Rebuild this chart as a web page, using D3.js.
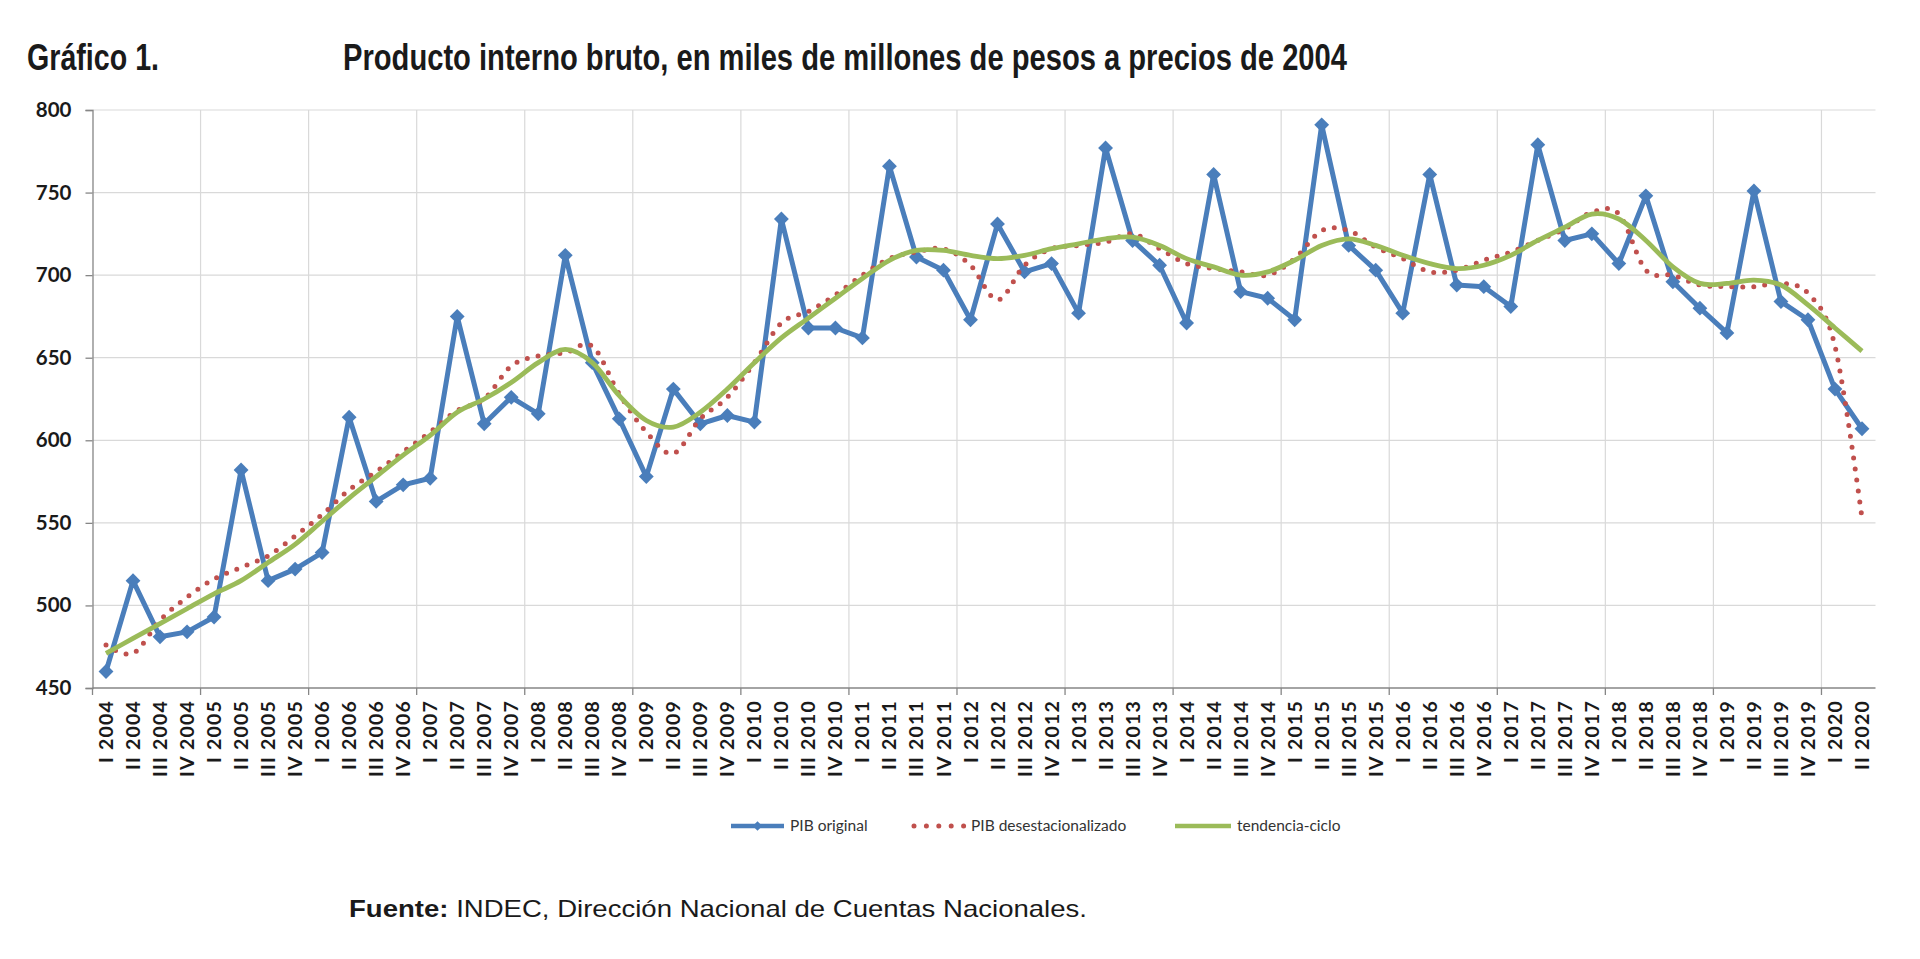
<!DOCTYPE html>
<html>
<head>
<meta charset="utf-8">
<script src="https://cdn.jsdelivr.net/npm/d3@7"></script>
<style>
  html, body { margin: 0; padding: 0; background: #ffffff; }
  svg { display: block; }
</style>
</head>
<body>
<svg id="chart" width="1920" height="959"></svg>
<script>
// ---------- DATA ----------
const years = [2004,2005,2006,2007,2008,2009,2010,2011,2012,2013,2014,2015,2016,2017,2018,2019,2020];
const quarters = ["I","II","III","IV"];
const categories = [];
years.forEach(y => quarters.forEach(q => { if (!(y === 2020 && (q === "III" || q === "IV"))) categories.push(q + " " + y); }));

const pibOriginal = [
  460, 515, 481, 484,
  493, 582, 515, 522,
  532, 614, 563, 573,
  577, 675, 610, 626,
  616, 712, 647, 613,
  578, 631, 610, 615,
  611, 734, 668, 668,
  662, 766, 711, 703,
  673, 731, 702, 707,
  677, 777, 721, 706,
  671, 761, 690, 686,
  673, 791, 718, 703,
  677, 761, 694, 693,
  681, 779, 721, 725,
  707, 748, 696, 680,
  665, 751, 684, 673,
  631, 607
];
const pibDesest = [
  476, 471, 491, 505,
  516, 523, 530, 542,
  555, 570, 581, 593,
  605, 618, 625, 645,
  651, 653, 657, 628,
  605, 592, 613, 626,
  647, 671, 678, 688,
  700, 710, 714, 716,
  706, 685, 706, 716,
  718, 720, 725, 716,
  707, 704, 702, 700,
  710, 727, 727, 717,
  710, 702, 703, 709,
  714, 721, 728, 738,
  737, 703, 700, 694,
  693, 693, 695, 689,
  657, 553
];
const tendencia = [
  471, 480, 489, 498,
  507, 515, 526, 537,
  551, 565, 578, 591,
  603, 617, 625, 635,
  647, 655, 647, 627,
  612, 608, 617, 631,
  647, 662, 674, 686,
  698, 709, 715, 715,
  712, 710, 712, 716,
  719, 722, 723, 718,
  710, 705, 700, 702,
  709, 718, 722, 718,
  712, 707, 704, 706,
  712, 721, 729, 737,
  734, 721, 705, 695,
  695, 697, 694, 682,
  668, 654
];
const yTicks = [450, 500, 550, 600, 650, 700, 750, 800];
const seriesNames = ["PIB original", "PIB desestacionalizado", "tendencia-ciclo"];
const titleLeft = "Gráfico 1.";
const titleMain = "Producto interno bruto, en miles de millones de pesos a precios de 2004";
const sourceBold = "Fuente:";
const sourceText = " INDEC, Dirección Nacional de Cuentas Nacionales.";

// ---------- LAYOUT ----------
const svg = d3.select("#chart");
const plot = { left: 92.5, right: 1875.5, top: 110, bottom: 688 };
const colBlue = "#4a7ebb", colRed = "#c0504d", colGreen = "#9bbb59";

const x = d3.scaleBand().domain(categories).range([plot.left, plot.right]).padding(0);
const cx = c => x(c) + x.bandwidth() / 2;
const y = d3.scaleLinear().domain([450, 800]).range([plot.bottom, plot.top]);

// Titles
svg.append("text").attr("x", 27).attr("y", 70)
  .attr("font-family", "'Liberation Sans Narrow','Arial Narrow','Liberation Sans',sans-serif")
  .attr("font-weight", "bold").attr("font-size", 36).attr("fill", "#1a1a1a")
  .attr("textLength", 132).attr("lengthAdjust", "spacingAndGlyphs")
  .text(titleLeft);
svg.append("text").attr("x", 343).attr("y", 70)
  .attr("font-family", "'Liberation Sans Narrow','Arial Narrow','Liberation Sans',sans-serif")
  .attr("font-weight", "bold").attr("font-size", 36).attr("fill", "#1a1a1a")
  .attr("textLength", 1004).attr("lengthAdjust", "spacingAndGlyphs")
  .text(titleMain);

// Horizontal gridlines
svg.append("g").selectAll("line").data(yTicks.filter(t => t !== 450)).join("line")
  .attr("x1", plot.left).attr("x2", plot.right)
  .attr("y1", d => y(d)).attr("y2", d => y(d))
  .attr("stroke", "#d9d9d9").attr("stroke-width", 1.2);

// Vertical gridlines at year boundaries
const yearStarts = categories.filter((c, i) => i % 4 === 0 && i > 0);
svg.append("g").selectAll("line").data(yearStarts).join("line")
  .attr("x1", d => x(d)).attr("x2", d => x(d))
  .attr("y1", plot.top).attr("y2", plot.bottom)
  .attr("stroke", "#d9d9d9").attr("stroke-width", 1.2);
// tick marks below axis
svg.append("g").selectAll("line").data(yearStarts).join("line")
  .attr("x1", d => x(d)).attr("x2", d => x(d))
  .attr("y1", plot.bottom).attr("y2", plot.bottom + 7)
  .attr("stroke", "#868686").attr("stroke-width", 1.3);

// Y axis
const yAxis = d3.axisLeft(y).tickValues(yTicks).tickSize(7).tickPadding(14);
const gy = svg.append("g").attr("transform", `translate(${plot.left},0)`).call(yAxis);
gy.select(".domain").attr("stroke", "#868686").attr("stroke-width", 1.3);
gy.selectAll(".tick line").attr("stroke", "#868686").attr("stroke-width", 1.3);
gy.selectAll(".tick text")
  .attr("font-family", "Lato, 'Open Sans', sans-serif").attr("font-weight", "bold")
  .attr("font-size", 20.5).attr("fill", "#1a1a1a");

// X axis line
svg.append("line").attr("x1", plot.left).attr("x2", plot.right)
  .attr("y1", plot.bottom).attr("y2", plot.bottom)
  .attr("stroke", "#868686").attr("stroke-width", 1.3);
svg.append("line").attr("x1", plot.left).attr("x2", plot.left)
  .attr("y1", plot.bottom).attr("y2", plot.bottom + 7)
  .attr("stroke", "#868686").attr("stroke-width", 1.3);

// X labels
svg.append("g").selectAll("text").data(categories).join("text")
  .attr("transform", d => `translate(${cx(d)},${plot.bottom + 12}) rotate(-90)`)
  .attr("text-anchor", "end").attr("dy", "0.36em")
  .attr("font-family", "Lato, 'Open Sans', sans-serif").attr("font-weight", "bold")
  .attr("font-size", 19.5).attr("letter-spacing", 1.2).attr("fill", "#1a1a1a")
  .text(d => d);

// Series
const lineStraight = d3.line().x((d, i) => cx(categories[i])).y(d => y(d));
const lineSmooth = d3.line().x((d, i) => cx(categories[i])).y(d => y(d)).curve(d3.curveCardinal.tension(0));

svg.append("path").datum(pibOriginal).attr("d", lineStraight)
  .attr("fill", "none").attr("stroke", colBlue).attr("stroke-width", 5).attr("stroke-linejoin", "round");
const diamond = d3.symbol().type(d3.symbolSquare).size(110);
svg.append("g").selectAll("path").data(pibOriginal).join("path")
  .attr("d", diamond)
  .attr("transform", (d, i) => `translate(${cx(categories[i])},${y(d)}) rotate(45)`)
  .attr("fill", colBlue);

svg.append("path").datum(pibDesest).attr("d", lineSmooth)
  .attr("fill", "none").attr("stroke", colRed).attr("stroke-width", 5)
  .attr("stroke-linecap", "round").attr("stroke-dasharray", "0 11");

svg.append("path").datum(tendencia).attr("d", lineSmooth)
  .attr("fill", "none").attr("stroke", colGreen).attr("stroke-width", 4.8);

// Legend
const legY = 826;
const leg = svg.append("g").attr("font-family", "Lato, 'Open Sans', sans-serif").attr("font-size", 15.5).attr("fill", "#333");
leg.append("line").attr("x1", 731).attr("x2", 784).attr("y1", legY).attr("y2", legY)
  .attr("stroke", colBlue).attr("stroke-width", 4.5);
leg.append("path").attr("d", d3.symbol().type(d3.symbolSquare).size(45))
  .attr("transform", `translate(757.5,${legY}) rotate(45)`).attr("fill", colBlue);
leg.append("text").attr("x", 790).attr("y", legY).attr("dy", "0.35em").text(seriesNames[0]);
leg.append("line").attr("x1", 914).attr("x2", 964).attr("y1", legY).attr("y2", legY)
  .attr("stroke", colRed).attr("stroke-width", 5).attr("stroke-linecap", "round").attr("stroke-dasharray", "0 12.4");
leg.append("text").attr("x", 971).attr("y", legY).attr("dy", "0.35em").text(seriesNames[1]);
leg.append("line").attr("x1", 1175).attr("x2", 1231).attr("y1", legY).attr("y2", legY)
  .attr("stroke", colGreen).attr("stroke-width", 4.5);
leg.append("text").attr("x", 1237).attr("y", legY).attr("dy", "0.35em").text(seriesNames[2]);

// Source
const src = svg.append("text").attr("x", 349).attr("y", 917)
  .attr("font-family", "'Liberation Sans', Arial, sans-serif").attr("font-size", 24).attr("fill", "#1a1a1a")
  .attr("textLength", 738).attr("lengthAdjust", "spacingAndGlyphs");
src.append("tspan").attr("font-weight", "bold").text(sourceBold);
src.append("tspan").text(sourceText);
</script>
</body>
</html>
